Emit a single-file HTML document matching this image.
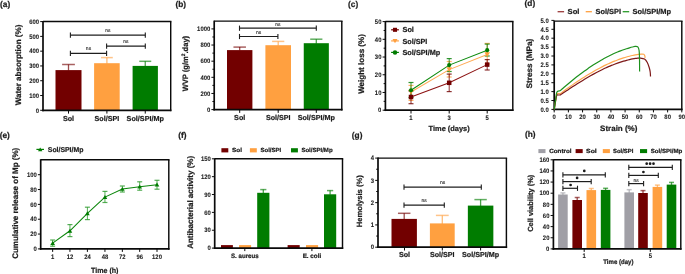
<!DOCTYPE html>
<html><head><meta charset="utf-8"><style>
html,body{margin:0;padding:0;background:#fff;}
svg{display:block;font-family:"Liberation Sans",sans-serif;will-change:transform;text-rendering:geometricPrecision;}
text[font-weight="bold"]{stroke:#1c1c1c;stroke-width:0.22px;paint-order:stroke;}
text[font-weight="normal"]{stroke:#1c1c1c;stroke-width:0.3px;paint-order:stroke;}
text.ns{stroke-width:0.08px;}
text.tk{stroke-width:0.08px;}
</style></head><body>
<svg width="685" height="274" viewBox="0 0 685 274">
<rect width="685" height="274" fill="#fff"/>
<text x="0" y="6.6" font-size="8.3" font-weight="bold" text-anchor="start" fill="#1c1c1c">(a)</text>
<rect x="55.5" y="70.1" width="26" height="40.2" fill="#720000"/>
<line x1="68.5" y1="64.5" x2="68.5" y2="70.6" stroke="#720000" stroke-width="1.3" stroke-opacity="0.7"/>
<line x1="62.1" y1="64.5" x2="74.9" y2="64.5" stroke="#720000" stroke-width="1.5" stroke-opacity="0.62"/>
<rect x="94.1" y="63.2" width="25.6" height="47.1" fill="#ffa040"/>
<line x1="106.9" y1="57.6" x2="106.9" y2="63.7" stroke="#ffa040" stroke-width="1.3" stroke-opacity="0.7"/>
<line x1="101" y1="57.6" x2="112.8" y2="57.6" stroke="#ffa040" stroke-width="1.5" stroke-opacity="0.62"/>
<rect x="132.6" y="65.9" width="25.3" height="44.4" fill="#007c00"/>
<line x1="145.25" y1="61.3" x2="145.25" y2="66.4" stroke="#007c00" stroke-width="1.3" stroke-opacity="0.7"/>
<line x1="139.25" y1="61.3" x2="151.25" y2="61.3" stroke="#007c00" stroke-width="1.5" stroke-opacity="0.62"/>
<line x1="43" y1="21.5" x2="171.42" y2="21.5" stroke="#0a0a0a" stroke-width="1.45"/>
<line x1="170.7" y1="21.5" x2="170.7" y2="111.15" stroke="#0a0a0a" stroke-width="1.45"/>
<line x1="43" y1="21" x2="43" y2="111.15" stroke="#0a0a0a" stroke-width="1.7"/>
<line x1="42.15" y1="110.3" x2="171.42" y2="110.3" stroke="#0a0a0a" stroke-width="1.7"/>
<line x1="40.2" y1="110.3" x2="43" y2="110.3" stroke="#0a0a0a" stroke-width="1"/>
<text class="tk" transform="translate(39 112.55) scale(0.92 1)" x="0" y="0" font-size="6.4" font-weight="bold" text-anchor="end" fill="#1c1c1c">0</text>
<line x1="40.2" y1="95.52" x2="43" y2="95.52" stroke="#0a0a0a" stroke-width="1"/>
<text class="tk" transform="translate(39 97.77) scale(0.92 1)" x="0" y="0" font-size="6.4" font-weight="bold" text-anchor="end" fill="#1c1c1c">100</text>
<line x1="40.2" y1="80.73" x2="43" y2="80.73" stroke="#0a0a0a" stroke-width="1"/>
<text class="tk" transform="translate(39 82.98) scale(0.92 1)" x="0" y="0" font-size="6.4" font-weight="bold" text-anchor="end" fill="#1c1c1c">200</text>
<line x1="40.2" y1="65.95" x2="43" y2="65.95" stroke="#0a0a0a" stroke-width="1"/>
<text class="tk" transform="translate(39 68.2) scale(0.92 1)" x="0" y="0" font-size="6.4" font-weight="bold" text-anchor="end" fill="#1c1c1c">300</text>
<line x1="40.2" y1="51.17" x2="43" y2="51.17" stroke="#0a0a0a" stroke-width="1"/>
<text class="tk" transform="translate(39 53.42) scale(0.92 1)" x="0" y="0" font-size="6.4" font-weight="bold" text-anchor="end" fill="#1c1c1c">400</text>
<line x1="40.2" y1="36.38" x2="43" y2="36.38" stroke="#0a0a0a" stroke-width="1"/>
<text class="tk" transform="translate(39 38.63) scale(0.92 1)" x="0" y="0" font-size="6.4" font-weight="bold" text-anchor="end" fill="#1c1c1c">500</text>
<line x1="40.2" y1="21.6" x2="43" y2="21.6" stroke="#0a0a0a" stroke-width="1"/>
<text class="tk" transform="translate(39 23.85) scale(0.92 1)" x="0" y="0" font-size="6.4" font-weight="bold" text-anchor="end" fill="#1c1c1c">600</text>
<line x1="68.5" y1="110.3" x2="68.5" y2="113.6" stroke="#0a0a0a" stroke-width="1"/>
<line x1="106.9" y1="110.3" x2="106.9" y2="113.6" stroke="#0a0a0a" stroke-width="1"/>
<line x1="145.25" y1="110.3" x2="145.25" y2="113.6" stroke="#0a0a0a" stroke-width="1"/>
<text x="68.5" y="120.6" font-size="7.2" font-weight="bold" text-anchor="middle" fill="#1c1c1c">Sol</text>
<text x="106.9" y="120.6" font-size="7.2" font-weight="bold" text-anchor="middle" fill="#1c1c1c" textLength="24.6" lengthAdjust="spacingAndGlyphs">Sol/SPI</text>
<text x="145.25" y="120.6" font-size="7.2" font-weight="bold" text-anchor="middle" fill="#1c1c1c" textLength="37.3" lengthAdjust="spacingAndGlyphs">Sol/SPI/Mp</text>
<text transform="translate(20.8 64.95) rotate(-90)" x="0" y="0" font-size="8" font-weight="bold" text-anchor="middle" fill="#1c1c1c" textLength="80.6" lengthAdjust="spacingAndGlyphs">Water absorption (%)</text>
<line x1="70.4" y1="35.2" x2="145.3" y2="35.2" stroke="#1e1e1e" stroke-width="1.2"/>
<line x1="70.4" y1="32.6" x2="70.4" y2="37.8" stroke="#1e1e1e" stroke-width="1.1"/>
<line x1="145.3" y1="32.6" x2="145.3" y2="37.8" stroke="#1e1e1e" stroke-width="1.1"/>
<text x="107.85" y="32.2" font-size="5" font-weight="normal" text-anchor="middle" fill="#111" class="ns">ns</text>
<line x1="106.6" y1="46.2" x2="145.3" y2="46.2" stroke="#1e1e1e" stroke-width="1.2"/>
<line x1="106.6" y1="43.6" x2="106.6" y2="48.8" stroke="#1e1e1e" stroke-width="1.1"/>
<line x1="145.3" y1="43.6" x2="145.3" y2="48.8" stroke="#1e1e1e" stroke-width="1.1"/>
<text x="125.95" y="43.2" font-size="5" font-weight="normal" text-anchor="middle" fill="#111" class="ns">ns</text>
<line x1="70.4" y1="53.3" x2="106.6" y2="53.3" stroke="#1e1e1e" stroke-width="1.2"/>
<line x1="70.4" y1="50.7" x2="70.4" y2="55.9" stroke="#1e1e1e" stroke-width="1.1"/>
<line x1="106.6" y1="50.7" x2="106.6" y2="55.9" stroke="#1e1e1e" stroke-width="1.1"/>
<text x="88.5" y="50.2" font-size="5" font-weight="normal" text-anchor="middle" fill="#111" class="ns">ns</text>
<text x="175.4" y="6.8" font-size="8.3" font-weight="bold" text-anchor="start" fill="#1c1c1c">(b)</text>
<rect x="227" y="50.1" width="25.4" height="59.5" fill="#720000"/>
<line x1="239.7" y1="47.1" x2="239.7" y2="50.6" stroke="#720000" stroke-width="1.3" stroke-opacity="0.7"/>
<line x1="233.45" y1="47.1" x2="245.95" y2="47.1" stroke="#720000" stroke-width="1.5" stroke-opacity="0.62"/>
<rect x="265.4" y="45.2" width="25.6" height="64.4" fill="#ffa040"/>
<line x1="278.2" y1="41.4" x2="278.2" y2="45.7" stroke="#ffa040" stroke-width="1.3" stroke-opacity="0.7"/>
<line x1="272.1" y1="41.4" x2="284.3" y2="41.4" stroke="#ffa040" stroke-width="1.5" stroke-opacity="0.62"/>
<rect x="303.75" y="43.2" width="25.1" height="66.4" fill="#007c00"/>
<line x1="316.3" y1="39.2" x2="316.3" y2="43.7" stroke="#007c00" stroke-width="1.3" stroke-opacity="0.7"/>
<line x1="310.2" y1="39.2" x2="322.4" y2="39.2" stroke="#007c00" stroke-width="1.5" stroke-opacity="0.62"/>
<line x1="214.2" y1="21.1" x2="342.53" y2="21.1" stroke="#0a0a0a" stroke-width="1.45"/>
<line x1="341.8" y1="21.1" x2="341.8" y2="110.45" stroke="#0a0a0a" stroke-width="1.45"/>
<line x1="214.2" y1="20.6" x2="214.2" y2="110.45" stroke="#0a0a0a" stroke-width="1.7"/>
<line x1="213.35" y1="109.6" x2="342.53" y2="109.6" stroke="#0a0a0a" stroke-width="1.7"/>
<line x1="211.4" y1="109.6" x2="214.2" y2="109.6" stroke="#0a0a0a" stroke-width="1"/>
<text class="tk" transform="translate(210.2 111.85) scale(0.92 1)" x="0" y="0" font-size="6.4" font-weight="bold" text-anchor="end" fill="#1c1c1c">0</text>
<line x1="211.4" y1="93.46" x2="214.2" y2="93.46" stroke="#0a0a0a" stroke-width="1"/>
<text class="tk" transform="translate(210.2 95.71) scale(0.92 1)" x="0" y="0" font-size="6.4" font-weight="bold" text-anchor="end" fill="#1c1c1c">200</text>
<line x1="211.4" y1="77.32" x2="214.2" y2="77.32" stroke="#0a0a0a" stroke-width="1"/>
<text class="tk" transform="translate(210.2 79.57) scale(0.92 1)" x="0" y="0" font-size="6.4" font-weight="bold" text-anchor="end" fill="#1c1c1c">400</text>
<line x1="211.4" y1="61.18" x2="214.2" y2="61.18" stroke="#0a0a0a" stroke-width="1"/>
<text class="tk" transform="translate(210.2 63.43) scale(0.92 1)" x="0" y="0" font-size="6.4" font-weight="bold" text-anchor="end" fill="#1c1c1c">600</text>
<line x1="211.4" y1="45.04" x2="214.2" y2="45.04" stroke="#0a0a0a" stroke-width="1"/>
<text class="tk" transform="translate(210.2 47.29) scale(0.92 1)" x="0" y="0" font-size="6.4" font-weight="bold" text-anchor="end" fill="#1c1c1c">800</text>
<line x1="211.4" y1="28.9" x2="214.2" y2="28.9" stroke="#0a0a0a" stroke-width="1"/>
<text class="tk" transform="translate(210.2 31.15) scale(0.92 1)" x="0" y="0" font-size="6.4" font-weight="bold" text-anchor="end" fill="#1c1c1c">1000</text>
<line x1="212.4" y1="101.53" x2="214.2" y2="101.53" stroke="#0a0a0a" stroke-width="1"/>
<line x1="212.4" y1="85.39" x2="214.2" y2="85.39" stroke="#0a0a0a" stroke-width="1"/>
<line x1="212.4" y1="69.25" x2="214.2" y2="69.25" stroke="#0a0a0a" stroke-width="1"/>
<line x1="212.4" y1="53.11" x2="214.2" y2="53.11" stroke="#0a0a0a" stroke-width="1"/>
<line x1="212.4" y1="36.97" x2="214.2" y2="36.97" stroke="#0a0a0a" stroke-width="1"/>
<line x1="239.7" y1="109.6" x2="239.7" y2="112.9" stroke="#0a0a0a" stroke-width="1"/>
<line x1="278.2" y1="109.6" x2="278.2" y2="112.9" stroke="#0a0a0a" stroke-width="1"/>
<line x1="316.3" y1="109.6" x2="316.3" y2="112.9" stroke="#0a0a0a" stroke-width="1"/>
<text x="239.7" y="120.4" font-size="7.2" font-weight="bold" text-anchor="middle" fill="#1c1c1c">Sol</text>
<text x="278.2" y="120.4" font-size="7.2" font-weight="bold" text-anchor="middle" fill="#1c1c1c" textLength="24.6" lengthAdjust="spacingAndGlyphs">Sol/SPI</text>
<text x="316.3" y="120.4" font-size="7.2" font-weight="bold" text-anchor="middle" fill="#1c1c1c" textLength="37.3" lengthAdjust="spacingAndGlyphs">Sol/SPI/Mp</text>
<text transform="translate(187.6 63.6) rotate(-90)" x="0" y="0" font-size="7.8" font-weight="bold" text-anchor="middle" fill="#1c1c1c" textLength="55.5" lengthAdjust="spacingAndGlyphs">WVP (g/m<tspan font-size="5" dy="-2.6">2</tspan><tspan dy="2.6">.day)</tspan></text>
<line x1="239.5" y1="28.2" x2="316.3" y2="28.2" stroke="#1e1e1e" stroke-width="1.2"/>
<line x1="239.5" y1="25.6" x2="239.5" y2="30.8" stroke="#1e1e1e" stroke-width="1.1"/>
<line x1="316.3" y1="25.6" x2="316.3" y2="30.8" stroke="#1e1e1e" stroke-width="1.1"/>
<text x="277.9" y="25.6" font-size="5" font-weight="normal" text-anchor="middle" fill="#111" class="ns">ns</text>
<line x1="239.5" y1="36.5" x2="277.9" y2="36.5" stroke="#1e1e1e" stroke-width="1.2"/>
<line x1="239.5" y1="33.9" x2="239.5" y2="39.1" stroke="#1e1e1e" stroke-width="1.1"/>
<line x1="277.9" y1="33.9" x2="277.9" y2="39.1" stroke="#1e1e1e" stroke-width="1.1"/>
<text x="258.7" y="33.6" font-size="5" font-weight="normal" text-anchor="middle" fill="#111" class="ns">ns</text>
<text x="348.1" y="6.8" font-size="8.3" font-weight="bold" text-anchor="start" fill="#1c1c1c">(c)</text>
<line x1="411" y1="85.4" x2="411" y2="100.4" stroke="#ffa040" stroke-width="1" stroke-opacity="0.8"/>
<line x1="408.5" y1="85.4" x2="413.5" y2="85.4" stroke="#ffa040" stroke-width="1.2" stroke-opacity="0.8"/>
<line x1="408.5" y1="100.4" x2="413.5" y2="100.4" stroke="#ffa040" stroke-width="1.2" stroke-opacity="0.8"/>
<line x1="449.2" y1="61.5" x2="449.2" y2="77" stroke="#ffa040" stroke-width="1" stroke-opacity="0.8"/>
<line x1="446.7" y1="61.5" x2="451.7" y2="61.5" stroke="#ffa040" stroke-width="1.2" stroke-opacity="0.8"/>
<line x1="446.7" y1="77" x2="451.7" y2="77" stroke="#ffa040" stroke-width="1.2" stroke-opacity="0.8"/>
<line x1="487.2" y1="43.4" x2="487.2" y2="64" stroke="#ffa040" stroke-width="1" stroke-opacity="0.8"/>
<line x1="484.7" y1="43.4" x2="489.7" y2="43.4" stroke="#ffa040" stroke-width="1.2" stroke-opacity="0.8"/>
<line x1="484.7" y1="64" x2="489.7" y2="64" stroke="#ffa040" stroke-width="1.2" stroke-opacity="0.8"/>
<line x1="411" y1="91" x2="411" y2="103.7" stroke="#720000" stroke-width="1" stroke-opacity="0.8"/>
<line x1="408.5" y1="91" x2="413.5" y2="91" stroke="#720000" stroke-width="1.2" stroke-opacity="0.8"/>
<line x1="408.5" y1="103.7" x2="413.5" y2="103.7" stroke="#720000" stroke-width="1.2" stroke-opacity="0.8"/>
<line x1="449.2" y1="74.1" x2="449.2" y2="91.6" stroke="#720000" stroke-width="1" stroke-opacity="0.8"/>
<line x1="446.7" y1="74.1" x2="451.7" y2="74.1" stroke="#720000" stroke-width="1.2" stroke-opacity="0.8"/>
<line x1="446.7" y1="91.6" x2="451.7" y2="91.6" stroke="#720000" stroke-width="1.2" stroke-opacity="0.8"/>
<line x1="487.2" y1="59.6" x2="487.2" y2="70" stroke="#720000" stroke-width="1" stroke-opacity="0.8"/>
<line x1="484.7" y1="59.6" x2="489.7" y2="59.6" stroke="#720000" stroke-width="1.2" stroke-opacity="0.8"/>
<line x1="484.7" y1="70" x2="489.7" y2="70" stroke="#720000" stroke-width="1.2" stroke-opacity="0.8"/>
<line x1="411" y1="82.5" x2="411" y2="97.5" stroke="#007c00" stroke-width="1" stroke-opacity="0.8"/>
<line x1="408.5" y1="82.5" x2="413.5" y2="82.5" stroke="#007c00" stroke-width="1.2" stroke-opacity="0.8"/>
<line x1="408.5" y1="97.5" x2="413.5" y2="97.5" stroke="#007c00" stroke-width="1.2" stroke-opacity="0.8"/>
<line x1="449.2" y1="58.6" x2="449.2" y2="71.5" stroke="#007c00" stroke-width="1" stroke-opacity="0.8"/>
<line x1="446.7" y1="58.6" x2="451.7" y2="58.6" stroke="#007c00" stroke-width="1.2" stroke-opacity="0.8"/>
<line x1="446.7" y1="71.5" x2="451.7" y2="71.5" stroke="#007c00" stroke-width="1.2" stroke-opacity="0.8"/>
<line x1="487.2" y1="44.1" x2="487.2" y2="56" stroke="#007c00" stroke-width="1" stroke-opacity="0.8"/>
<line x1="484.7" y1="44.1" x2="489.7" y2="44.1" stroke="#007c00" stroke-width="1.2" stroke-opacity="0.8"/>
<line x1="484.7" y1="56" x2="489.7" y2="56" stroke="#007c00" stroke-width="1.2" stroke-opacity="0.8"/>
<polyline points="411,92 449.2,69.6 487.2,54.4" fill="none" stroke="#ffab55" stroke-width="1.05"/>
<polyline points="411,97 449.2,82.8 487.2,64.6" fill="none" stroke="#8c1212" stroke-width="1.05"/>
<polyline points="411,90.3 449.2,65.1 487.2,50.2" fill="none" stroke="#0c8a0c" stroke-width="1.05"/>
<polygon points="408.2,89.76 413.8,89.76 411,94.52" fill="#ffa040"/>
<polygon points="446.4,67.36 452,67.36 449.2,72.12" fill="#ffa040"/>
<polygon points="484.4,52.16 490,52.16 487.2,56.92" fill="#ffa040"/>
<rect x="408.75" y="94.75" width="4.5" height="4.5" fill="#720000"/>
<rect x="446.95" y="80.55" width="4.5" height="4.5" fill="#720000"/>
<rect x="484.95" y="62.35" width="4.5" height="4.5" fill="#720000"/>
<circle cx="411" cy="90.3" r="2.1" fill="#007c00"/>
<circle cx="449.2" cy="65.1" r="2.1" fill="#007c00"/>
<circle cx="487.2" cy="50.2" r="2.1" fill="#007c00"/>
<line x1="385.4" y1="21.5" x2="513.52" y2="21.5" stroke="#0a0a0a" stroke-width="1.45"/>
<line x1="512.8" y1="21.5" x2="512.8" y2="111.05" stroke="#0a0a0a" stroke-width="1.45"/>
<line x1="385.4" y1="21" x2="385.4" y2="111.05" stroke="#0a0a0a" stroke-width="1.7"/>
<line x1="384.55" y1="110.2" x2="513.52" y2="110.2" stroke="#0a0a0a" stroke-width="1.7"/>
<line x1="382.6" y1="110.2" x2="385.4" y2="110.2" stroke="#0a0a0a" stroke-width="1"/>
<text class="tk" transform="translate(381.4 112.45) scale(0.92 1)" x="0" y="0" font-size="6.4" font-weight="bold" text-anchor="end" fill="#1c1c1c">0</text>
<line x1="382.6" y1="92.48" x2="385.4" y2="92.48" stroke="#0a0a0a" stroke-width="1"/>
<text class="tk" transform="translate(381.4 94.73) scale(0.92 1)" x="0" y="0" font-size="6.4" font-weight="bold" text-anchor="end" fill="#1c1c1c">10</text>
<line x1="382.6" y1="74.76" x2="385.4" y2="74.76" stroke="#0a0a0a" stroke-width="1"/>
<text class="tk" transform="translate(381.4 77.01) scale(0.92 1)" x="0" y="0" font-size="6.4" font-weight="bold" text-anchor="end" fill="#1c1c1c">20</text>
<line x1="382.6" y1="57.04" x2="385.4" y2="57.04" stroke="#0a0a0a" stroke-width="1"/>
<text class="tk" transform="translate(381.4 59.29) scale(0.92 1)" x="0" y="0" font-size="6.4" font-weight="bold" text-anchor="end" fill="#1c1c1c">30</text>
<line x1="382.6" y1="39.32" x2="385.4" y2="39.32" stroke="#0a0a0a" stroke-width="1"/>
<text class="tk" transform="translate(381.4 41.57) scale(0.92 1)" x="0" y="0" font-size="6.4" font-weight="bold" text-anchor="end" fill="#1c1c1c">40</text>
<line x1="382.6" y1="21.6" x2="385.4" y2="21.6" stroke="#0a0a0a" stroke-width="1"/>
<text class="tk" transform="translate(381.4 23.85) scale(0.92 1)" x="0" y="0" font-size="6.4" font-weight="bold" text-anchor="end" fill="#1c1c1c">50</text>
<line x1="383.6" y1="101.34" x2="385.4" y2="101.34" stroke="#0a0a0a" stroke-width="1"/>
<line x1="383.6" y1="83.62" x2="385.4" y2="83.62" stroke="#0a0a0a" stroke-width="1"/>
<line x1="383.6" y1="65.9" x2="385.4" y2="65.9" stroke="#0a0a0a" stroke-width="1"/>
<line x1="383.6" y1="48.18" x2="385.4" y2="48.18" stroke="#0a0a0a" stroke-width="1"/>
<line x1="383.6" y1="30.46" x2="385.4" y2="30.46" stroke="#0a0a0a" stroke-width="1"/>
<line x1="411" y1="110.2" x2="411" y2="113.5" stroke="#0a0a0a" stroke-width="1"/>
<text class="tk" transform="translate(411 119.6) scale(0.92 1)" x="0" y="0" font-size="6.4" font-weight="bold" text-anchor="middle" fill="#1c1c1c">1</text>
<line x1="449.2" y1="110.2" x2="449.2" y2="113.5" stroke="#0a0a0a" stroke-width="1"/>
<text class="tk" transform="translate(449.2 119.6) scale(0.92 1)" x="0" y="0" font-size="6.4" font-weight="bold" text-anchor="middle" fill="#1c1c1c">3</text>
<line x1="487.2" y1="110.2" x2="487.2" y2="113.5" stroke="#0a0a0a" stroke-width="1"/>
<text class="tk" transform="translate(487.2 119.6) scale(0.92 1)" x="0" y="0" font-size="6.4" font-weight="bold" text-anchor="middle" fill="#1c1c1c">5</text>
<text x="449.15" y="131" font-size="7.4" font-weight="bold" text-anchor="middle" fill="#1c1c1c" textLength="41.1" lengthAdjust="spacingAndGlyphs">Time (days)</text>
<text transform="translate(363.7 64) rotate(-90)" x="0" y="0" font-size="8" font-weight="bold" text-anchor="middle" fill="#1c1c1c" textLength="59.7" lengthAdjust="spacingAndGlyphs">Weight loss (%)</text>
<line x1="391.1" y1="29.8" x2="398.9" y2="29.8" stroke="#720000" stroke-width="1.2"/>
<rect x="392.98" y="27.78" width="4.05" height="4.05" fill="#720000"/>
<text x="402.5" y="32.4" font-size="7.3" font-weight="bold" text-anchor="start" fill="#1c1c1c" textLength="11.4" lengthAdjust="spacingAndGlyphs">Sol</text>
<line x1="391.1" y1="40.9" x2="398.9" y2="40.9" stroke="#ffa040" stroke-width="1.2"/>
<polygon points="392.48,38.88 397.52,38.88 395,43.17" fill="#ffa040"/>
<text x="402.5" y="43.5" font-size="7.3" font-weight="bold" text-anchor="start" fill="#1c1c1c" textLength="24.8" lengthAdjust="spacingAndGlyphs">Sol/SPI</text>
<line x1="391.1" y1="52.4" x2="398.9" y2="52.4" stroke="#007c00" stroke-width="1.2"/>
<circle cx="395" cy="52.4" r="2.25" fill="#007c00"/>
<text x="402.5" y="55" font-size="7.3" font-weight="bold" text-anchor="start" fill="#1c1c1c" textLength="37.7" lengthAdjust="spacingAndGlyphs">Sol/SPI/Mp</text>
<text x="524.6" y="6.4" font-size="8.3" font-weight="bold" text-anchor="start" fill="#1c1c1c">(d)</text>
<line x1="554.2" y1="21.1" x2="682.52" y2="21.1" stroke="#0a0a0a" stroke-width="1.45"/>
<line x1="681.8" y1="21.1" x2="681.8" y2="110.25" stroke="#0a0a0a" stroke-width="1.45"/>
<line x1="554.2" y1="20.6" x2="554.2" y2="110.25" stroke="#0a0a0a" stroke-width="1.7"/>
<line x1="553.35" y1="109.4" x2="682.52" y2="109.4" stroke="#0a0a0a" stroke-width="1.7"/>
<line x1="551.4" y1="109.4" x2="554.2" y2="109.4" stroke="#0a0a0a" stroke-width="1"/>
<text class="tk" transform="translate(548.7 111.65) scale(0.92 1)" x="0" y="0" font-size="6.4" font-weight="bold" text-anchor="end" fill="#1c1c1c">0.0</text>
<line x1="551.4" y1="100.5" x2="554.2" y2="100.5" stroke="#0a0a0a" stroke-width="1"/>
<text class="tk" transform="translate(548.7 102.75) scale(0.92 1)" x="0" y="0" font-size="6.4" font-weight="bold" text-anchor="end" fill="#1c1c1c">0.5</text>
<line x1="551.4" y1="91.6" x2="554.2" y2="91.6" stroke="#0a0a0a" stroke-width="1"/>
<text class="tk" transform="translate(548.7 93.85) scale(0.92 1)" x="0" y="0" font-size="6.4" font-weight="bold" text-anchor="end" fill="#1c1c1c">1.0</text>
<line x1="551.4" y1="82.7" x2="554.2" y2="82.7" stroke="#0a0a0a" stroke-width="1"/>
<text class="tk" transform="translate(548.7 84.95) scale(0.92 1)" x="0" y="0" font-size="6.4" font-weight="bold" text-anchor="end" fill="#1c1c1c">1.5</text>
<line x1="551.4" y1="73.8" x2="554.2" y2="73.8" stroke="#0a0a0a" stroke-width="1"/>
<text class="tk" transform="translate(548.7 76.05) scale(0.92 1)" x="0" y="0" font-size="6.4" font-weight="bold" text-anchor="end" fill="#1c1c1c">2.0</text>
<line x1="551.4" y1="64.9" x2="554.2" y2="64.9" stroke="#0a0a0a" stroke-width="1"/>
<text class="tk" transform="translate(548.7 67.15) scale(0.92 1)" x="0" y="0" font-size="6.4" font-weight="bold" text-anchor="end" fill="#1c1c1c">2.5</text>
<line x1="551.4" y1="56" x2="554.2" y2="56" stroke="#0a0a0a" stroke-width="1"/>
<text class="tk" transform="translate(548.7 58.25) scale(0.92 1)" x="0" y="0" font-size="6.4" font-weight="bold" text-anchor="end" fill="#1c1c1c">3.0</text>
<line x1="551.4" y1="47.1" x2="554.2" y2="47.1" stroke="#0a0a0a" stroke-width="1"/>
<text class="tk" transform="translate(548.7 49.35) scale(0.92 1)" x="0" y="0" font-size="6.4" font-weight="bold" text-anchor="end" fill="#1c1c1c">3.5</text>
<line x1="551.4" y1="38.2" x2="554.2" y2="38.2" stroke="#0a0a0a" stroke-width="1"/>
<text class="tk" transform="translate(548.7 40.45) scale(0.92 1)" x="0" y="0" font-size="6.4" font-weight="bold" text-anchor="end" fill="#1c1c1c">4.0</text>
<line x1="551.4" y1="29.3" x2="554.2" y2="29.3" stroke="#0a0a0a" stroke-width="1"/>
<text class="tk" transform="translate(548.7 31.55) scale(0.92 1)" x="0" y="0" font-size="6.4" font-weight="bold" text-anchor="end" fill="#1c1c1c">4.5</text>
<line x1="551.4" y1="20.4" x2="554.2" y2="20.4" stroke="#0a0a0a" stroke-width="1"/>
<text class="tk" transform="translate(548.7 22.65) scale(0.92 1)" x="0" y="0" font-size="6.4" font-weight="bold" text-anchor="end" fill="#1c1c1c">5.0</text>
<line x1="554.2" y1="109.4" x2="554.2" y2="112.4" stroke="#0a0a0a" stroke-width="1"/>
<text class="tk" transform="translate(554.2 118.9) scale(0.92 1)" x="0" y="0" font-size="6.4" font-weight="bold" text-anchor="middle" fill="#1c1c1c">0</text>
<line x1="568.38" y1="109.4" x2="568.38" y2="112.4" stroke="#0a0a0a" stroke-width="1"/>
<text class="tk" transform="translate(568.38 118.9) scale(0.92 1)" x="0" y="0" font-size="6.4" font-weight="bold" text-anchor="middle" fill="#1c1c1c">10</text>
<line x1="582.56" y1="109.4" x2="582.56" y2="112.4" stroke="#0a0a0a" stroke-width="1"/>
<text class="tk" transform="translate(582.56 118.9) scale(0.92 1)" x="0" y="0" font-size="6.4" font-weight="bold" text-anchor="middle" fill="#1c1c1c">20</text>
<line x1="596.73" y1="109.4" x2="596.73" y2="112.4" stroke="#0a0a0a" stroke-width="1"/>
<text class="tk" transform="translate(596.73 118.9) scale(0.92 1)" x="0" y="0" font-size="6.4" font-weight="bold" text-anchor="middle" fill="#1c1c1c">30</text>
<line x1="610.91" y1="109.4" x2="610.91" y2="112.4" stroke="#0a0a0a" stroke-width="1"/>
<text class="tk" transform="translate(610.91 118.9) scale(0.92 1)" x="0" y="0" font-size="6.4" font-weight="bold" text-anchor="middle" fill="#1c1c1c">40</text>
<line x1="625.09" y1="109.4" x2="625.09" y2="112.4" stroke="#0a0a0a" stroke-width="1"/>
<text class="tk" transform="translate(625.09 118.9) scale(0.92 1)" x="0" y="0" font-size="6.4" font-weight="bold" text-anchor="middle" fill="#1c1c1c">50</text>
<line x1="639.27" y1="109.4" x2="639.27" y2="112.4" stroke="#0a0a0a" stroke-width="1"/>
<text class="tk" transform="translate(639.27 118.9) scale(0.92 1)" x="0" y="0" font-size="6.4" font-weight="bold" text-anchor="middle" fill="#1c1c1c">60</text>
<line x1="653.44" y1="109.4" x2="653.44" y2="112.4" stroke="#0a0a0a" stroke-width="1"/>
<text class="tk" transform="translate(653.44 118.9) scale(0.92 1)" x="0" y="0" font-size="6.4" font-weight="bold" text-anchor="middle" fill="#1c1c1c">70</text>
<line x1="667.62" y1="109.4" x2="667.62" y2="112.4" stroke="#0a0a0a" stroke-width="1"/>
<text class="tk" transform="translate(667.62 118.9) scale(0.92 1)" x="0" y="0" font-size="6.4" font-weight="bold" text-anchor="middle" fill="#1c1c1c">80</text>
<line x1="681.8" y1="109.4" x2="681.8" y2="112.4" stroke="#0a0a0a" stroke-width="1"/>
<text class="tk" transform="translate(681.8 118.9) scale(0.92 1)" x="0" y="0" font-size="6.4" font-weight="bold" text-anchor="middle" fill="#1c1c1c">90</text>
<text x="618.75" y="130.8" font-size="7.8" font-weight="bold" text-anchor="middle" fill="#1c1c1c" textLength="37.3" lengthAdjust="spacingAndGlyphs">Strain (%)</text>
<text transform="translate(532.1 63.6) rotate(-90)" x="0" y="0" font-size="8" font-weight="bold" text-anchor="middle" fill="#1c1c1c" textLength="49.9" lengthAdjust="spacingAndGlyphs">Stress (MPa)</text>
<path d="M554.2,109.4 C554.43,108 555.18,103.57 555.6,101 C556.02,98.43 556.22,95.25 556.7,94 C557.18,92.75 557.87,93.59 558.5,93.5 C559.13,93.41 559.67,93.84 560.5,93.46 C561.33,93.09 562.5,91.99 563.5,91.27 C564.5,90.54 565.5,89.82 566.5,89.1 C567.5,88.38 568.5,87.67 569.5,86.97 C570.5,86.26 571.5,85.56 572.5,84.87 C573.5,84.18 574.5,83.49 575.5,82.81 C576.5,82.13 577.5,81.46 578.5,80.8 C579.5,80.13 580.5,79.48 581.5,78.83 C582.5,78.18 583.5,77.54 584.5,76.91 C585.5,76.28 586.5,75.65 587.5,75.04 C588.5,74.43 589.5,73.82 590.5,73.23 C591.5,72.63 592.5,72.05 593.5,71.48 C594.5,70.9 595.5,70.34 596.5,69.78 C597.5,69.23 598.5,68.69 599.5,68.16 C600.5,67.63 601.5,67.11 602.5,66.6 C603.5,66.1 604.5,65.6 605.5,65.12 C606.5,64.64 607.5,64.16 608.5,63.71 C609.5,63.25 610.5,62.81 611.5,62.38 C612.5,61.95 613.5,61.53 614.5,61.13 C615.5,60.72 616.5,60.34 617.5,59.96 C618.5,59.59 619.5,59.23 620.5,58.89 C621.5,58.54 622.5,58.21 623.5,57.9 C624.5,57.59 625.5,57.29 626.5,57.01 C627.5,56.73 628.5,56.46 629.5,56.22 C630.5,55.97 631.5,55.74 632.5,55.52 C633.5,55.31 634.5,55.11 635.5,54.94 C636.5,54.76 637.5,54.6 638.5,54.46 C639.5,54.31 640.62,54.11 641.5,54.09 C642.38,54.06 643.25,54.01 643.8,54.3 C644.35,54.59 644.58,55.22 644.8,55.8 C645.02,56.38 645.05,57.47 645.1,57.8" fill="none" stroke="#ffa84f" stroke-width="1.2"/>
<path d="M554.2,109.4 C554.43,108 555.18,103.33 555.6,101 C556.02,98.67 556.22,96.4 556.7,95.4 C557.18,94.4 557.87,95.1 558.5,95 C559.13,94.9 559.67,95.19 560.5,94.83 C561.33,94.46 562.5,93.47 563.5,92.8 C564.5,92.13 565.5,91.46 566.5,90.79 C567.5,90.13 568.5,89.46 569.5,88.81 C570.5,88.15 571.5,87.49 572.5,86.84 C573.5,86.19 574.5,85.55 575.5,84.91 C576.5,84.27 577.5,83.63 578.5,83.01 C579.5,82.38 580.5,81.75 581.5,81.14 C582.5,80.52 583.5,79.92 584.5,79.31 C585.5,78.71 586.5,78.12 587.5,77.53 C588.5,76.95 589.5,76.37 590.5,75.8 C591.5,75.23 592.5,74.67 593.5,74.12 C594.5,73.57 595.5,73.03 596.5,72.5 C597.5,71.97 598.5,71.45 599.5,70.94 C600.5,70.43 601.5,69.93 602.5,69.44 C603.5,68.96 604.5,68.48 605.5,68.02 C606.5,67.55 607.5,67.1 608.5,66.66 C609.5,66.22 610.5,65.8 611.5,65.39 C612.5,64.97 613.5,64.58 614.5,64.19 C615.5,63.81 616.5,63.44 617.5,63.08 C618.5,62.73 619.5,62.39 620.5,62.06 C621.5,61.74 622.5,61.43 623.5,61.14 C624.5,60.85 625.5,60.57 626.5,60.31 C627.5,60.05 628.5,59.81 629.5,59.58 C630.5,59.36 631.5,59.15 632.5,58.96 C633.5,58.78 634.5,58.61 635.5,58.46 C636.5,58.3 637.82,58.15 638.5,58.06 C639.18,57.97 638.6,57.79 639.6,57.94 C640.6,58.1 643.22,58.24 644.5,59 C645.78,59.76 646.52,61.08 647.3,62.5 C648.08,63.92 648.72,65.92 649.2,67.5 C649.68,69.08 649.98,70.5 650.2,72 C650.42,73.5 650.45,75.75 650.5,76.5" fill="none" stroke="#7d1818" stroke-width="1.2"/>
<path d="M554.2,109.4 C554.43,107.83 555.18,102.8 555.6,100 C556.02,97.2 556.22,94.1 556.7,92.6 C557.18,91.1 557.87,91.36 558.5,91 C559.13,90.64 559.67,90.95 560.5,90.41 C561.33,89.87 562.5,88.64 563.5,87.77 C564.5,86.9 565.5,86.04 566.5,85.19 C567.5,84.34 568.5,83.5 569.5,82.67 C570.5,81.84 571.5,81.02 572.5,80.21 C573.5,79.4 574.5,78.6 575.5,77.81 C576.5,77.02 577.5,76.24 578.5,75.48 C579.5,74.71 580.5,73.96 581.5,73.21 C582.5,72.47 583.5,71.74 584.5,71.02 C585.5,70.29 586.5,69.59 587.5,68.89 C588.5,68.19 589.5,67.51 590.5,66.84 C591.5,66.17 592.5,65.51 593.5,64.86 C594.5,64.22 595.5,63.58 596.5,62.96 C597.5,62.34 598.5,61.74 599.5,61.14 C600.5,60.55 601.5,59.97 602.5,59.41 C603.5,58.84 604.5,58.29 605.5,57.76 C606.5,57.22 607.5,56.7 608.5,56.19 C609.5,55.68 610.5,55.19 611.5,54.71 C612.5,54.23 613.5,53.77 614.5,53.32 C615.5,52.88 616.5,52.45 617.5,52.03 C618.5,51.61 619.5,51.21 620.5,50.83 C621.5,50.45 622.5,50.08 623.5,49.73 C624.5,49.38 625.5,49.04 626.5,48.72 C627.5,48.41 628.5,48.11 629.5,47.82 C630.5,47.54 631.58,47.25 632.5,47.02 C633.42,46.79 634.12,46.46 635,46.44 C635.88,46.42 637.12,46.22 637.8,46.9 C638.48,47.58 638.82,48.65 639.1,50.5 C639.38,52.35 639.42,54.52 639.5,58 C639.58,61.48 639.58,69.17 639.6,71.4" fill="none" stroke="#1d911d" stroke-width="1.2"/>
<line x1="557.6" y1="11.7" x2="564.1" y2="11.7" stroke="#9b3a3a" stroke-width="1.3"/>
<text x="567.6" y="14.3" font-size="7.3" font-weight="bold" text-anchor="start" fill="#1c1c1c" textLength="11.9" lengthAdjust="spacingAndGlyphs">Sol</text>
<line x1="585.7" y1="11.7" x2="591.9" y2="11.7" stroke="#ffa040" stroke-width="1.3"/>
<text x="595.6" y="14.3" font-size="7.3" font-weight="bold" text-anchor="start" fill="#1c1c1c" textLength="25.4" lengthAdjust="spacingAndGlyphs">Sol/SPI</text>
<line x1="622.7" y1="11.7" x2="629.2" y2="11.7" stroke="#2a9a2a" stroke-width="1.3"/>
<text x="632.6" y="14.3" font-size="7.3" font-weight="bold" text-anchor="start" fill="#1c1c1c" textLength="38.5" lengthAdjust="spacingAndGlyphs">Sol/SPI/Mp</text>
<text x="-0.3" y="137.8" font-size="8.3" font-weight="bold" text-anchor="start" fill="#1c1c1c">(e)</text>
<line x1="52.65" y1="240" x2="52.65" y2="246.2" stroke="#2a9a2a" stroke-width="1" stroke-opacity="0.8"/>
<line x1="50.15" y1="240" x2="55.15" y2="240" stroke="#2a9a2a" stroke-width="1.2" stroke-opacity="0.8"/>
<line x1="50.15" y1="246.2" x2="55.15" y2="246.2" stroke="#2a9a2a" stroke-width="1.2" stroke-opacity="0.8"/>
<line x1="69.95" y1="224.6" x2="69.95" y2="236.6" stroke="#2a9a2a" stroke-width="1" stroke-opacity="0.8"/>
<line x1="67.45" y1="224.6" x2="72.45" y2="224.6" stroke="#2a9a2a" stroke-width="1.2" stroke-opacity="0.8"/>
<line x1="67.45" y1="236.6" x2="72.45" y2="236.6" stroke="#2a9a2a" stroke-width="1.2" stroke-opacity="0.8"/>
<line x1="87.4" y1="207.2" x2="87.4" y2="219.6" stroke="#2a9a2a" stroke-width="1" stroke-opacity="0.8"/>
<line x1="84.9" y1="207.2" x2="89.9" y2="207.2" stroke="#2a9a2a" stroke-width="1.2" stroke-opacity="0.8"/>
<line x1="84.9" y1="219.6" x2="89.9" y2="219.6" stroke="#2a9a2a" stroke-width="1.2" stroke-opacity="0.8"/>
<line x1="104.95" y1="191.4" x2="104.95" y2="202.5" stroke="#2a9a2a" stroke-width="1" stroke-opacity="0.8"/>
<line x1="102.45" y1="191.4" x2="107.45" y2="191.4" stroke="#2a9a2a" stroke-width="1.2" stroke-opacity="0.8"/>
<line x1="102.45" y1="202.5" x2="107.45" y2="202.5" stroke="#2a9a2a" stroke-width="1.2" stroke-opacity="0.8"/>
<line x1="122.35" y1="186" x2="122.35" y2="192" stroke="#2a9a2a" stroke-width="1" stroke-opacity="0.8"/>
<line x1="119.85" y1="186" x2="124.85" y2="186" stroke="#2a9a2a" stroke-width="1.2" stroke-opacity="0.8"/>
<line x1="119.85" y1="192" x2="124.85" y2="192" stroke="#2a9a2a" stroke-width="1.2" stroke-opacity="0.8"/>
<line x1="139.7" y1="181.8" x2="139.7" y2="190.2" stroke="#2a9a2a" stroke-width="1" stroke-opacity="0.8"/>
<line x1="137.2" y1="181.8" x2="142.2" y2="181.8" stroke="#2a9a2a" stroke-width="1.2" stroke-opacity="0.8"/>
<line x1="137.2" y1="190.2" x2="142.2" y2="190.2" stroke="#2a9a2a" stroke-width="1.2" stroke-opacity="0.8"/>
<line x1="157" y1="180.3" x2="157" y2="189.2" stroke="#2a9a2a" stroke-width="1" stroke-opacity="0.8"/>
<line x1="154.5" y1="180.3" x2="159.5" y2="180.3" stroke="#2a9a2a" stroke-width="1.2" stroke-opacity="0.8"/>
<line x1="154.5" y1="189.2" x2="159.5" y2="189.2" stroke="#2a9a2a" stroke-width="1.2" stroke-opacity="0.8"/>
<polyline points="52.65,243.1 69.95,230.8 87.4,213.4 104.95,197.1 122.35,189 139.7,186.7 157,184.7" fill="none" stroke="#0c870c" stroke-width="1.1"/>
<polygon points="50.31,244.97 54.99,244.97 52.65,240.99" fill="#007c00"/>
<polygon points="67.61,232.67 72.29,232.67 69.95,228.69" fill="#007c00"/>
<polygon points="85.06,215.27 89.74,215.27 87.4,211.29" fill="#007c00"/>
<polygon points="102.61,198.97 107.29,198.97 104.95,194.99" fill="#007c00"/>
<polygon points="120.01,190.87 124.69,190.87 122.35,186.89" fill="#007c00"/>
<polygon points="137.36,188.57 142.04,188.57 139.7,184.59" fill="#007c00"/>
<polygon points="154.66,186.57 159.34,186.57 157,182.59" fill="#007c00"/>
<line x1="40.7" y1="159.7" x2="169.53" y2="159.7" stroke="#0a0a0a" stroke-width="1.45"/>
<line x1="168.8" y1="159.7" x2="168.8" y2="249.75" stroke="#0a0a0a" stroke-width="1.45"/>
<line x1="40.7" y1="159.2" x2="40.7" y2="249.75" stroke="#0a0a0a" stroke-width="1.7"/>
<line x1="39.85" y1="248.9" x2="169.53" y2="248.9" stroke="#0a0a0a" stroke-width="1.7"/>
<line x1="37.9" y1="248.9" x2="40.7" y2="248.9" stroke="#0a0a0a" stroke-width="1"/>
<text class="tk" transform="translate(36.7 251.15) scale(0.92 1)" x="0" y="0" font-size="6.4" font-weight="bold" text-anchor="end" fill="#1c1c1c">0</text>
<line x1="37.9" y1="234.06" x2="40.7" y2="234.06" stroke="#0a0a0a" stroke-width="1"/>
<text class="tk" transform="translate(36.7 236.31) scale(0.92 1)" x="0" y="0" font-size="6.4" font-weight="bold" text-anchor="end" fill="#1c1c1c">20</text>
<line x1="37.9" y1="219.22" x2="40.7" y2="219.22" stroke="#0a0a0a" stroke-width="1"/>
<text class="tk" transform="translate(36.7 221.47) scale(0.92 1)" x="0" y="0" font-size="6.4" font-weight="bold" text-anchor="end" fill="#1c1c1c">40</text>
<line x1="37.9" y1="204.38" x2="40.7" y2="204.38" stroke="#0a0a0a" stroke-width="1"/>
<text class="tk" transform="translate(36.7 206.63) scale(0.92 1)" x="0" y="0" font-size="6.4" font-weight="bold" text-anchor="end" fill="#1c1c1c">60</text>
<line x1="37.9" y1="189.54" x2="40.7" y2="189.54" stroke="#0a0a0a" stroke-width="1"/>
<text class="tk" transform="translate(36.7 191.79) scale(0.92 1)" x="0" y="0" font-size="6.4" font-weight="bold" text-anchor="end" fill="#1c1c1c">80</text>
<line x1="37.9" y1="174.7" x2="40.7" y2="174.7" stroke="#0a0a0a" stroke-width="1"/>
<text class="tk" transform="translate(36.7 176.95) scale(0.92 1)" x="0" y="0" font-size="6.4" font-weight="bold" text-anchor="end" fill="#1c1c1c">100</text>
<line x1="52.65" y1="248.9" x2="52.65" y2="251.9" stroke="#0a0a0a" stroke-width="1"/>
<text class="tk" transform="translate(52.65 258.6) scale(0.92 1)" x="0" y="0" font-size="6.4" font-weight="bold" text-anchor="middle" fill="#1c1c1c">1</text>
<line x1="69.95" y1="248.9" x2="69.95" y2="251.9" stroke="#0a0a0a" stroke-width="1"/>
<text class="tk" transform="translate(69.95 258.6) scale(0.92 1)" x="0" y="0" font-size="6.4" font-weight="bold" text-anchor="middle" fill="#1c1c1c">12</text>
<line x1="87.4" y1="248.9" x2="87.4" y2="251.9" stroke="#0a0a0a" stroke-width="1"/>
<text class="tk" transform="translate(87.4 258.6) scale(0.92 1)" x="0" y="0" font-size="6.4" font-weight="bold" text-anchor="middle" fill="#1c1c1c">24</text>
<line x1="104.95" y1="248.9" x2="104.95" y2="251.9" stroke="#0a0a0a" stroke-width="1"/>
<text class="tk" transform="translate(104.95 258.6) scale(0.92 1)" x="0" y="0" font-size="6.4" font-weight="bold" text-anchor="middle" fill="#1c1c1c">48</text>
<line x1="122.35" y1="248.9" x2="122.35" y2="251.9" stroke="#0a0a0a" stroke-width="1"/>
<text class="tk" transform="translate(122.35 258.6) scale(0.92 1)" x="0" y="0" font-size="6.4" font-weight="bold" text-anchor="middle" fill="#1c1c1c">72</text>
<line x1="139.7" y1="248.9" x2="139.7" y2="251.9" stroke="#0a0a0a" stroke-width="1"/>
<text class="tk" transform="translate(139.7 258.6) scale(0.92 1)" x="0" y="0" font-size="6.4" font-weight="bold" text-anchor="middle" fill="#1c1c1c">96</text>
<line x1="157" y1="248.9" x2="157" y2="251.9" stroke="#0a0a0a" stroke-width="1"/>
<text class="tk" transform="translate(157 258.6) scale(0.92 1)" x="0" y="0" font-size="6.4" font-weight="bold" text-anchor="middle" fill="#1c1c1c">120</text>
<text x="104.8" y="272.6" font-size="7.6" font-weight="bold" text-anchor="middle" fill="#1c1c1c" textLength="27.4" lengthAdjust="spacingAndGlyphs">Time (h)</text>
<text transform="translate(18.4 203.3) rotate(-90)" x="0" y="0" font-size="8" font-weight="bold" text-anchor="middle" fill="#1c1c1c" textLength="111" lengthAdjust="spacingAndGlyphs">Cumulative release of Mp (%)</text>
<line x1="36.4" y1="149.4" x2="44" y2="149.4" stroke="#007c00" stroke-width="1.2"/>
<polygon points="37.99,151.17 42.41,151.17 40.2,147.41" fill="#007c00"/>
<text x="47.8" y="151.8" font-size="7" font-weight="bold" text-anchor="start" fill="#1c1c1c" textLength="35.6" lengthAdjust="spacingAndGlyphs">Sol/SPI/Mp</text>
<text x="178.2" y="137.8" font-size="8.3" font-weight="bold" text-anchor="start" fill="#1c1c1c">(f)</text>
<rect x="221" y="245.1" width="11.9" height="3" fill="#720000"/>
<rect x="239.1" y="245.1" width="12" height="3" fill="#ffa040"/>
<rect x="287.6" y="245.1" width="12.1" height="3" fill="#720000"/>
<rect x="306" y="245.1" width="12.1" height="3" fill="#ffa040"/>
<rect x="257.2" y="192.8" width="12.2" height="55.3" fill="#007c00"/>
<line x1="263.3" y1="189.6" x2="263.3" y2="193.3" stroke="#007c00" stroke-width="1.3" stroke-opacity="0.7"/>
<line x1="260.2" y1="189.6" x2="266.4" y2="189.6" stroke="#007c00" stroke-width="1.5" stroke-opacity="0.62"/>
<rect x="324" y="194.3" width="12.2" height="53.8" fill="#007c00"/>
<line x1="330.1" y1="190.6" x2="330.1" y2="194.8" stroke="#007c00" stroke-width="1.3" stroke-opacity="0.7"/>
<line x1="327" y1="190.6" x2="333.2" y2="190.6" stroke="#007c00" stroke-width="1.5" stroke-opacity="0.62"/>
<line x1="214.7" y1="158.8" x2="343.23" y2="158.8" stroke="#0a0a0a" stroke-width="1.45"/>
<line x1="342.5" y1="158.8" x2="342.5" y2="248.95" stroke="#0a0a0a" stroke-width="1.45"/>
<line x1="214.7" y1="158.3" x2="214.7" y2="248.95" stroke="#0a0a0a" stroke-width="1.7"/>
<line x1="213.85" y1="248.1" x2="343.23" y2="248.1" stroke="#0a0a0a" stroke-width="1.7"/>
<line x1="211.9" y1="248.1" x2="214.7" y2="248.1" stroke="#0a0a0a" stroke-width="1"/>
<text class="tk" transform="translate(210.7 250.35) scale(0.92 1)" x="0" y="0" font-size="6.4" font-weight="bold" text-anchor="end" fill="#1c1c1c">0</text>
<line x1="211.9" y1="230.24" x2="214.7" y2="230.24" stroke="#0a0a0a" stroke-width="1"/>
<text class="tk" transform="translate(210.7 232.49) scale(0.92 1)" x="0" y="0" font-size="6.4" font-weight="bold" text-anchor="end" fill="#1c1c1c">30</text>
<line x1="211.9" y1="212.38" x2="214.7" y2="212.38" stroke="#0a0a0a" stroke-width="1"/>
<text class="tk" transform="translate(210.7 214.63) scale(0.92 1)" x="0" y="0" font-size="6.4" font-weight="bold" text-anchor="end" fill="#1c1c1c">60</text>
<line x1="211.9" y1="194.52" x2="214.7" y2="194.52" stroke="#0a0a0a" stroke-width="1"/>
<text class="tk" transform="translate(210.7 196.77) scale(0.92 1)" x="0" y="0" font-size="6.4" font-weight="bold" text-anchor="end" fill="#1c1c1c">90</text>
<line x1="211.9" y1="176.66" x2="214.7" y2="176.66" stroke="#0a0a0a" stroke-width="1"/>
<text class="tk" transform="translate(210.7 178.91) scale(0.92 1)" x="0" y="0" font-size="6.4" font-weight="bold" text-anchor="end" fill="#1c1c1c">120</text>
<line x1="211.9" y1="158.8" x2="214.7" y2="158.8" stroke="#0a0a0a" stroke-width="1"/>
<text class="tk" transform="translate(210.7 161.05) scale(0.92 1)" x="0" y="0" font-size="6.4" font-weight="bold" text-anchor="end" fill="#1c1c1c">150</text>
<line x1="244.8" y1="248.1" x2="244.8" y2="251.1" stroke="#0a0a0a" stroke-width="1"/>
<line x1="311.9" y1="248.1" x2="311.9" y2="251.1" stroke="#0a0a0a" stroke-width="1"/>
<text x="244.8" y="257.7" font-size="6.3" font-weight="bold" text-anchor="middle" fill="#1c1c1c" textLength="27.6" lengthAdjust="spacingAndGlyphs">S. aureus</text>
<text x="311.9" y="257.7" font-size="6.3" font-weight="bold" text-anchor="middle" fill="#1c1c1c">E. coli</text>
<text transform="translate(192.5 202.35) rotate(-90)" x="0" y="0" font-size="8" font-weight="bold" text-anchor="middle" fill="#1c1c1c" textLength="93" lengthAdjust="spacingAndGlyphs">Antibacterial activity (%)</text>
<rect x="221.4" y="148.2" width="6.9" height="4.2" fill="#720000"/>
<text x="232" y="152.4" font-size="6" font-weight="bold" text-anchor="start" fill="#1c1c1c" textLength="10" lengthAdjust="spacingAndGlyphs">Sol</text>
<rect x="249.9" y="148.2" width="6.9" height="4.2" fill="#ffa040"/>
<text x="260.5" y="152.4" font-size="6" font-weight="bold" text-anchor="start" fill="#1c1c1c" textLength="20.6" lengthAdjust="spacingAndGlyphs">Sol/SPI</text>
<rect x="291" y="148.2" width="6.9" height="4.2" fill="#007c00"/>
<text x="301.4" y="152.4" font-size="6" font-weight="bold" text-anchor="start" fill="#1c1c1c" textLength="31.2" lengthAdjust="spacingAndGlyphs">Sol/SPI/Mp</text>
<text x="351.8" y="137.8" font-size="8.3" font-weight="bold" text-anchor="start" fill="#1c1c1c">(g)</text>
<rect x="391.5" y="218.9" width="25.4" height="28.3" fill="#720000"/>
<line x1="404.2" y1="213.3" x2="404.2" y2="219.4" stroke="#720000" stroke-width="1.3" stroke-opacity="0.7"/>
<line x1="397.95" y1="213.3" x2="410.45" y2="213.3" stroke="#720000" stroke-width="1.5" stroke-opacity="0.62"/>
<rect x="429.9" y="223.4" width="24.8" height="23.8" fill="#ffa040"/>
<line x1="442.3" y1="215.4" x2="442.3" y2="223.9" stroke="#ffa040" stroke-width="1.3" stroke-opacity="0.7"/>
<line x1="435.9" y1="215.4" x2="448.7" y2="215.4" stroke="#ffa040" stroke-width="1.5" stroke-opacity="0.62"/>
<rect x="467.85" y="205.6" width="25.5" height="41.6" fill="#007c00"/>
<line x1="480.6" y1="199.6" x2="480.6" y2="206.1" stroke="#007c00" stroke-width="1.3" stroke-opacity="0.7"/>
<line x1="474.4" y1="199.6" x2="486.8" y2="199.6" stroke="#007c00" stroke-width="1.5" stroke-opacity="0.62"/>
<line x1="378" y1="158.1" x2="507.12" y2="158.1" stroke="#0a0a0a" stroke-width="1.45"/>
<line x1="506.4" y1="158.1" x2="506.4" y2="248.05" stroke="#0a0a0a" stroke-width="1.45"/>
<line x1="378" y1="157.6" x2="378" y2="248.05" stroke="#0a0a0a" stroke-width="1.7"/>
<line x1="377.15" y1="247.2" x2="507.12" y2="247.2" stroke="#0a0a0a" stroke-width="1.7"/>
<line x1="375.2" y1="247.2" x2="378" y2="247.2" stroke="#0a0a0a" stroke-width="1"/>
<text class="tk" transform="translate(374 249.45) scale(0.92 1)" x="0" y="0" font-size="6.4" font-weight="bold" text-anchor="end" fill="#1c1c1c">0</text>
<line x1="375.2" y1="224.92" x2="378" y2="224.92" stroke="#0a0a0a" stroke-width="1"/>
<text class="tk" transform="translate(374 227.17) scale(0.92 1)" x="0" y="0" font-size="6.4" font-weight="bold" text-anchor="end" fill="#1c1c1c">1</text>
<line x1="375.2" y1="202.65" x2="378" y2="202.65" stroke="#0a0a0a" stroke-width="1"/>
<text class="tk" transform="translate(374 204.9) scale(0.92 1)" x="0" y="0" font-size="6.4" font-weight="bold" text-anchor="end" fill="#1c1c1c">2</text>
<line x1="375.2" y1="180.38" x2="378" y2="180.38" stroke="#0a0a0a" stroke-width="1"/>
<text class="tk" transform="translate(374 182.62) scale(0.92 1)" x="0" y="0" font-size="6.4" font-weight="bold" text-anchor="end" fill="#1c1c1c">3</text>
<line x1="375.2" y1="158.1" x2="378" y2="158.1" stroke="#0a0a0a" stroke-width="1"/>
<text class="tk" transform="translate(374 160.35) scale(0.92 1)" x="0" y="0" font-size="6.4" font-weight="bold" text-anchor="end" fill="#1c1c1c">4</text>
<line x1="376.2" y1="236.06" x2="378" y2="236.06" stroke="#0a0a0a" stroke-width="1"/>
<line x1="376.2" y1="213.79" x2="378" y2="213.79" stroke="#0a0a0a" stroke-width="1"/>
<line x1="376.2" y1="191.51" x2="378" y2="191.51" stroke="#0a0a0a" stroke-width="1"/>
<line x1="376.2" y1="169.24" x2="378" y2="169.24" stroke="#0a0a0a" stroke-width="1"/>
<line x1="404.5" y1="247.2" x2="404.5" y2="250.5" stroke="#0a0a0a" stroke-width="1"/>
<line x1="442.3" y1="247.2" x2="442.3" y2="250.5" stroke="#0a0a0a" stroke-width="1"/>
<line x1="480.6" y1="247.2" x2="480.6" y2="250.5" stroke="#0a0a0a" stroke-width="1"/>
<text x="404.5" y="257.2" font-size="7.2" font-weight="bold" text-anchor="middle" fill="#1c1c1c">Sol</text>
<text x="442.3" y="257.2" font-size="7.2" font-weight="bold" text-anchor="middle" fill="#1c1c1c" textLength="24.6" lengthAdjust="spacingAndGlyphs">Sol/SPI</text>
<text x="480.6" y="257.2" font-size="7.2" font-weight="bold" text-anchor="middle" fill="#1c1c1c" textLength="37.1" lengthAdjust="spacingAndGlyphs">Sol/SPI/Mp</text>
<text transform="translate(362.4 201.25) rotate(-90)" x="0" y="0" font-size="7.6" font-weight="bold" text-anchor="middle" fill="#1c1c1c" textLength="52" lengthAdjust="spacingAndGlyphs">Hemolysis (%)</text>
<line x1="404" y1="187.2" x2="481.3" y2="187.2" stroke="#1e1e1e" stroke-width="1.2"/>
<line x1="404" y1="184.6" x2="404" y2="189.8" stroke="#1e1e1e" stroke-width="1.1"/>
<line x1="481.3" y1="184.6" x2="481.3" y2="189.8" stroke="#1e1e1e" stroke-width="1.1"/>
<text x="442.65" y="184.2" font-size="5" font-weight="normal" text-anchor="middle" fill="#111" class="ns">ns</text>
<line x1="404" y1="205.1" x2="444.3" y2="205.1" stroke="#1e1e1e" stroke-width="1.2"/>
<line x1="404" y1="202.5" x2="404" y2="207.7" stroke="#1e1e1e" stroke-width="1.1"/>
<line x1="444.3" y1="202.5" x2="444.3" y2="207.7" stroke="#1e1e1e" stroke-width="1.1"/>
<text x="424.15" y="202.1" font-size="5" font-weight="normal" text-anchor="middle" fill="#111" class="ns">ns</text>
<text x="525" y="137.2" font-size="8.3" font-weight="bold" text-anchor="start" fill="#1c1c1c">(h)</text>
<rect x="558.1" y="194.5" width="9.6" height="54.4" fill="#a09fa6"/>
<line x1="562.9" y1="192.9" x2="562.9" y2="195" stroke="#a09fa6" stroke-width="1.3" stroke-opacity="0.7"/>
<line x1="560.4" y1="192.9" x2="565.4" y2="192.9" stroke="#a09fa6" stroke-width="1.5" stroke-opacity="0.62"/>
<rect x="572.4" y="200" width="9.6" height="48.9" fill="#720000"/>
<line x1="577.2" y1="197.5" x2="577.2" y2="200.5" stroke="#720000" stroke-width="1.3" stroke-opacity="0.7"/>
<line x1="574.7" y1="197.5" x2="579.7" y2="197.5" stroke="#720000" stroke-width="1.5" stroke-opacity="0.62"/>
<rect x="586.5" y="190.1" width="9.6" height="58.8" fill="#ffa040"/>
<line x1="591.3" y1="188.5" x2="591.3" y2="190.6" stroke="#ffa040" stroke-width="1.3" stroke-opacity="0.7"/>
<line x1="588.8" y1="188.5" x2="593.8" y2="188.5" stroke="#ffa040" stroke-width="1.5" stroke-opacity="0.62"/>
<rect x="600.8" y="189.9" width="9.6" height="59" fill="#007c00"/>
<line x1="605.6" y1="188.3" x2="605.6" y2="190.4" stroke="#007c00" stroke-width="1.3" stroke-opacity="0.7"/>
<line x1="603.1" y1="188.3" x2="608.1" y2="188.3" stroke="#007c00" stroke-width="1.5" stroke-opacity="0.62"/>
<rect x="624.4" y="192.4" width="9.6" height="56.5" fill="#a09fa6"/>
<line x1="629.2" y1="189.7" x2="629.2" y2="192.9" stroke="#a09fa6" stroke-width="1.3" stroke-opacity="0.7"/>
<line x1="626.7" y1="189.7" x2="631.7" y2="189.7" stroke="#a09fa6" stroke-width="1.5" stroke-opacity="0.62"/>
<rect x="638.2" y="193" width="9.6" height="55.9" fill="#720000"/>
<line x1="643" y1="190.6" x2="643" y2="193.5" stroke="#720000" stroke-width="1.3" stroke-opacity="0.7"/>
<line x1="640.5" y1="190.6" x2="645.5" y2="190.6" stroke="#720000" stroke-width="1.5" stroke-opacity="0.62"/>
<rect x="652.6" y="186.9" width="9.6" height="62" fill="#ffa040"/>
<line x1="657.4" y1="185.1" x2="657.4" y2="187.4" stroke="#ffa040" stroke-width="1.3" stroke-opacity="0.7"/>
<line x1="654.9" y1="185.1" x2="659.9" y2="185.1" stroke="#ffa040" stroke-width="1.5" stroke-opacity="0.62"/>
<rect x="666.7" y="184.6" width="9.6" height="64.3" fill="#007c00"/>
<line x1="671.5" y1="182.4" x2="671.5" y2="185.1" stroke="#007c00" stroke-width="1.3" stroke-opacity="0.7"/>
<line x1="669" y1="182.4" x2="674" y2="182.4" stroke="#007c00" stroke-width="1.5" stroke-opacity="0.62"/>
<line x1="553.4" y1="159.8" x2="681.52" y2="159.8" stroke="#0a0a0a" stroke-width="1.45"/>
<line x1="680.8" y1="159.8" x2="680.8" y2="249.75" stroke="#0a0a0a" stroke-width="1.45"/>
<line x1="553.4" y1="159.3" x2="553.4" y2="249.75" stroke="#0a0a0a" stroke-width="1.7"/>
<line x1="552.55" y1="248.9" x2="681.52" y2="248.9" stroke="#0a0a0a" stroke-width="1.7"/>
<line x1="550.6" y1="248.9" x2="553.4" y2="248.9" stroke="#0a0a0a" stroke-width="1"/>
<text class="tk" transform="translate(549.4 251.15) scale(0.92 1)" x="0" y="0" font-size="6.4" font-weight="bold" text-anchor="end" fill="#1c1c1c">0</text>
<line x1="550.6" y1="237.76" x2="553.4" y2="237.76" stroke="#0a0a0a" stroke-width="1"/>
<text class="tk" transform="translate(549.4 240.01) scale(0.92 1)" x="0" y="0" font-size="6.4" font-weight="bold" text-anchor="end" fill="#1c1c1c">20</text>
<line x1="550.6" y1="226.62" x2="553.4" y2="226.62" stroke="#0a0a0a" stroke-width="1"/>
<text class="tk" transform="translate(549.4 228.88) scale(0.92 1)" x="0" y="0" font-size="6.4" font-weight="bold" text-anchor="end" fill="#1c1c1c">40</text>
<line x1="550.6" y1="215.49" x2="553.4" y2="215.49" stroke="#0a0a0a" stroke-width="1"/>
<text class="tk" transform="translate(549.4 217.74) scale(0.92 1)" x="0" y="0" font-size="6.4" font-weight="bold" text-anchor="end" fill="#1c1c1c">60</text>
<line x1="550.6" y1="204.35" x2="553.4" y2="204.35" stroke="#0a0a0a" stroke-width="1"/>
<text class="tk" transform="translate(549.4 206.6) scale(0.92 1)" x="0" y="0" font-size="6.4" font-weight="bold" text-anchor="end" fill="#1c1c1c">80</text>
<line x1="550.6" y1="193.21" x2="553.4" y2="193.21" stroke="#0a0a0a" stroke-width="1"/>
<text class="tk" transform="translate(549.4 195.46) scale(0.92 1)" x="0" y="0" font-size="6.4" font-weight="bold" text-anchor="end" fill="#1c1c1c">100</text>
<line x1="550.6" y1="182.07" x2="553.4" y2="182.07" stroke="#0a0a0a" stroke-width="1"/>
<text class="tk" transform="translate(549.4 184.32) scale(0.92 1)" x="0" y="0" font-size="6.4" font-weight="bold" text-anchor="end" fill="#1c1c1c">120</text>
<line x1="550.6" y1="170.94" x2="553.4" y2="170.94" stroke="#0a0a0a" stroke-width="1"/>
<text class="tk" transform="translate(549.4 173.19) scale(0.92 1)" x="0" y="0" font-size="6.4" font-weight="bold" text-anchor="end" fill="#1c1c1c">140</text>
<line x1="550.6" y1="159.8" x2="553.4" y2="159.8" stroke="#0a0a0a" stroke-width="1"/>
<text class="tk" transform="translate(549.4 162.05) scale(0.92 1)" x="0" y="0" font-size="6.4" font-weight="bold" text-anchor="end" fill="#1c1c1c">160</text>
<line x1="584.2" y1="248.9" x2="584.2" y2="251.9" stroke="#0a0a0a" stroke-width="1"/>
<text class="tk" transform="translate(584.2 258.2) scale(0.92 1)" x="0" y="0" font-size="6.4" font-weight="bold" text-anchor="middle" fill="#1c1c1c">1</text>
<line x1="650.3" y1="248.9" x2="650.3" y2="251.9" stroke="#0a0a0a" stroke-width="1"/>
<text class="tk" transform="translate(650.3 258.2) scale(0.92 1)" x="0" y="0" font-size="6.4" font-weight="bold" text-anchor="middle" fill="#1c1c1c">5</text>
<text x="618.35" y="264.4" font-size="6.6" font-weight="bold" text-anchor="middle" fill="#1c1c1c" textLength="30.2" lengthAdjust="spacingAndGlyphs">Time (day)</text>
<text transform="translate(532.8 203.25) rotate(-90)" x="0" y="0" font-size="7.4" font-weight="bold" text-anchor="middle" fill="#1c1c1c" textLength="57.2" lengthAdjust="spacingAndGlyphs">Cell viability (%)</text>
<line x1="562.9" y1="174.85" x2="605.3" y2="174.85" stroke="#1e1e1e" stroke-width="1.2"/>
<line x1="562.9" y1="172.25" x2="562.9" y2="177.45" stroke="#1e1e1e" stroke-width="1.1"/>
<line x1="605.3" y1="172.25" x2="605.3" y2="177.45" stroke="#1e1e1e" stroke-width="1.1"/>
<circle cx="584.3" cy="170.9" r="1.35" fill="#1a1a1a"/>
<line x1="562.9" y1="181.6" x2="591.2" y2="181.6" stroke="#1e1e1e" stroke-width="1.2"/>
<line x1="562.9" y1="179" x2="562.9" y2="184.2" stroke="#1e1e1e" stroke-width="1.1"/>
<line x1="591.2" y1="179" x2="591.2" y2="184.2" stroke="#1e1e1e" stroke-width="1.1"/>
<circle cx="577.1" cy="177.9" r="1.35" fill="#1a1a1a"/>
<line x1="562.9" y1="188.3" x2="577.5" y2="188.3" stroke="#1e1e1e" stroke-width="1.2"/>
<line x1="562.9" y1="185.7" x2="562.9" y2="190.9" stroke="#1e1e1e" stroke-width="1.1"/>
<line x1="577.5" y1="185.7" x2="577.5" y2="190.9" stroke="#1e1e1e" stroke-width="1.1"/>
<circle cx="570.6" cy="185" r="1.35" fill="#1a1a1a"/>
<line x1="628.8" y1="167.4" x2="672.3" y2="167.4" stroke="#1e1e1e" stroke-width="1.2"/>
<line x1="628.8" y1="164.8" x2="628.8" y2="170" stroke="#1e1e1e" stroke-width="1.1"/>
<line x1="672.3" y1="164.8" x2="672.3" y2="170" stroke="#1e1e1e" stroke-width="1.1"/>
<circle cx="646.7" cy="163.7" r="1.35" fill="#1a1a1a"/>
<circle cx="650.1" cy="163.7" r="1.35" fill="#1a1a1a"/>
<circle cx="653.5" cy="163.7" r="1.35" fill="#1a1a1a"/>
<line x1="628.8" y1="175.4" x2="658.3" y2="175.4" stroke="#1e1e1e" stroke-width="1.2"/>
<line x1="628.8" y1="172.8" x2="628.8" y2="178" stroke="#1e1e1e" stroke-width="1.1"/>
<line x1="658.3" y1="172.8" x2="658.3" y2="178" stroke="#1e1e1e" stroke-width="1.1"/>
<circle cx="643.4" cy="172" r="1.35" fill="#1a1a1a"/>
<line x1="628.8" y1="183.6" x2="643.6" y2="183.6" stroke="#1e1e1e" stroke-width="1.2"/>
<line x1="628.8" y1="181" x2="628.8" y2="186.2" stroke="#1e1e1e" stroke-width="1.1"/>
<line x1="643.6" y1="181" x2="643.6" y2="186.2" stroke="#1e1e1e" stroke-width="1.1"/>
<text x="636.1" y="181.6" font-size="5" font-weight="normal" text-anchor="middle" fill="#111" class="ns">ns</text>
<rect x="538.4" y="149.1" width="7.1" height="4" fill="#a09fa6"/>
<text x="549.2" y="153.3" font-size="6" font-weight="bold" text-anchor="start" fill="#1c1c1c" textLength="22.3" lengthAdjust="spacingAndGlyphs">Control</text>
<rect x="575.6" y="149.1" width="7.1" height="4" fill="#720000"/>
<text x="586.1" y="153.3" font-size="6" font-weight="bold" text-anchor="start" fill="#1c1c1c" textLength="10.7" lengthAdjust="spacingAndGlyphs">Sol</text>
<rect x="602.8" y="149.1" width="7.1" height="4" fill="#ffa040"/>
<text x="613" y="153.3" font-size="6" font-weight="bold" text-anchor="start" fill="#1c1c1c" textLength="20.4" lengthAdjust="spacingAndGlyphs">Sol/SPI</text>
<rect x="640" y="149.1" width="7.1" height="4" fill="#007c00"/>
<text x="650.8" y="153.3" font-size="6" font-weight="bold" text-anchor="start" fill="#1c1c1c" textLength="31.5" lengthAdjust="spacingAndGlyphs">Sol/SPI/Mp</text>
</svg>
</body></html>
